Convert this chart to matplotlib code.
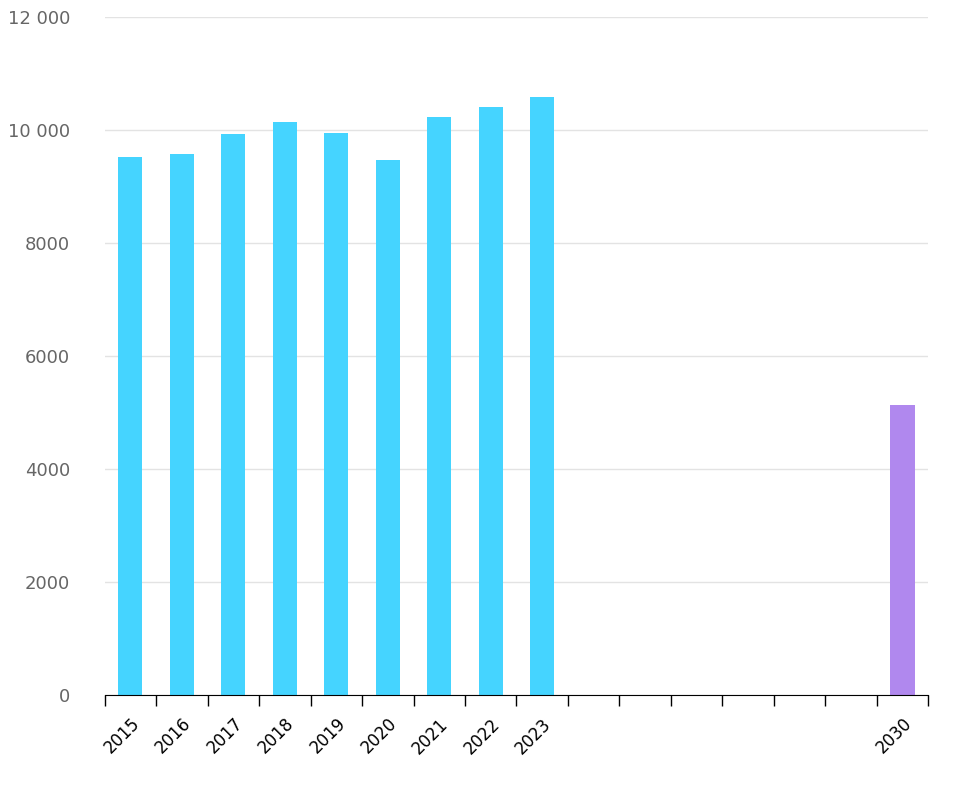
import matplotlib.pyplot as plt
from matplotlib.ticker import FuncFormatter

years = ["2015", "2016", "2017", "2018", "2019", "2020", "2021", "2022", "2023",
         "2024", "2025", "2026", "2027", "2028", "2029", "2030"]
labels = ["2015", "2016", "2017", "2018", "2019", "2020", "2021", "2022", "2023",
          "", "", "", "", "", "", "2030"]
values = [9520, 9575, 9930, 10140, 9947, 9470, 10230, 10407, 10584,
          None, None, None, None, None, None, 5133]
colors = ["#45d4ff"] * 9 + ["none"] * 6 + ["#b088ee"]


def main():
    fig = plt.figure(figsize=(9.6, 8), dpi=100)
    ax = fig.add_axes([0.109, 0.131, 0.858, 0.848])

    xs = list(range(len(years)))
    heights = [v if v is not None else 0 for v in values]
    ax.bar(xs, heights, width=0.47, color=colors, zorder=3)

    ax.set_xlim(-0.5, len(years) - 0.5)
    ax.set_ylim(0, 12000)
    ax.set_yticks(range(0, 12001, 2000))

    def fmt(v, pos):
        v = int(v)
        return f"{v:,}".replace(",", " ") if v >= 10000 else str(v)
    ax.yaxis.set_major_formatter(FuncFormatter(fmt))

    ax.grid(axis="y", color="#e3e3e3", linewidth=1, zorder=0)
    for s in ["top", "right", "left"]:
        ax.spines[s].set_visible(False)
    ax.spines["bottom"].set_color("black")
    ax.spines["bottom"].set_zorder(4)

    ax.tick_params(axis="y", length=0, labelsize=13, labelcolor="#666666", pad=25)
    ax.set_xticks(xs)
    ax.set_xticklabels(labels, rotation=45, ha="right", rotation_mode="anchor", fontsize=12)
    ax.tick_params(axis="x", which="major", length=0, pad=14)
    ax.set_xticks([x - 0.5 for x in range(len(years) + 1)], minor=True)
    ax.tick_params(axis="x", which="minor", length=8, color="black", width=1)

    fig.savefig("out.png", dpi=100)
    plt.close(fig)


if __name__ == "__main__":
    main()
